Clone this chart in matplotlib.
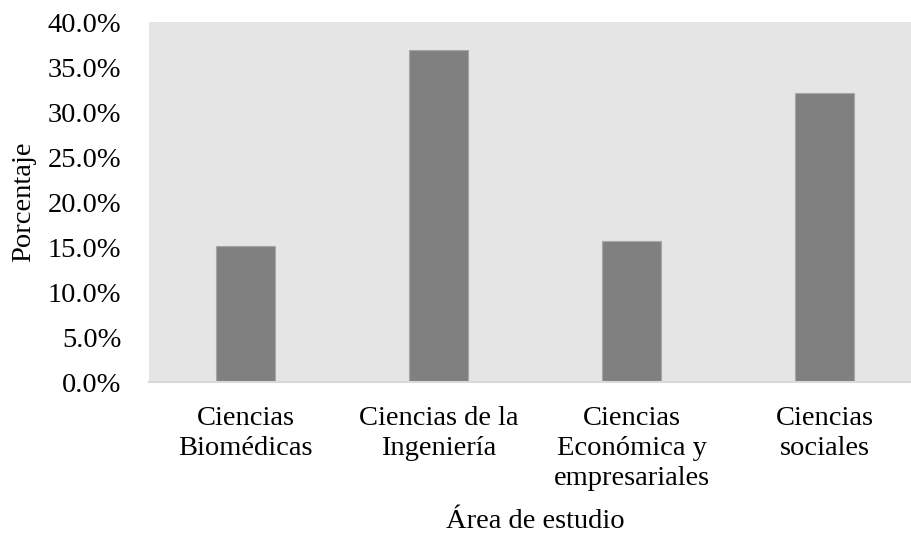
import matplotlib.pyplot as plt
from matplotlib.ticker import FuncFormatter

plt.rcParams['font.family'] = ['Liberation Serif', 'DejaVu Serif']

# porcentaje de estudiantes por área
areas = ['Ciencias\nBiomédicas', 'Ciencias de la\nIngeniería',
         'Ciencias\nEconómica y\nempresariales', 'Ciencias\nsociales']
porcentajes = [15.1, 36.9, 15.7, 32.1]
yticks = [0, 5, 10, 15, 20, 25, 30, 35, 40]

fig = plt.figure(figsize=(9.11, 5.41), dpi=100)
ax = fig.add_axes([149 / 911, (541 - 382.3) / 541, 772 / 911, 360.3 / 541])
ax.set_facecolor('#e5e5e5')

ax.bar(range(len(areas)), porcentajes, width=0.31, color='#808080',
       edgecolor='#a6a6a6', linewidth=0.8)

ax.set_xlim(-0.5, len(areas) - 0.5)
ax.set_ylim(0, 40)
ax.set_yticks(yticks)
ax.yaxis.set_major_formatter(FuncFormatter(lambda v, p: f'{v:.1f}%'))
ax.set_xticks(range(len(areas)))
ax.set_xticklabels(areas, linespacing=1.26)

for s in ['top', 'right', 'left']:
    ax.spines[s].set_visible(False)
ax.spines['bottom'].set_color('#d9d9d9')
ax.spines['bottom'].set_linewidth(1.5)

ax.tick_params(axis='both', length=0, labelsize=20.5, colors='black')
ax.tick_params(axis='y', pad=20)
ax.tick_params(axis='x', pad=17)

ax.set_xlabel('Área de estudio', fontsize=20.5, labelpad=13)
ax.set_ylabel('Porcentaje', fontsize=20.5, labelpad=8)

fig.savefig('out.png', dpi=100)
